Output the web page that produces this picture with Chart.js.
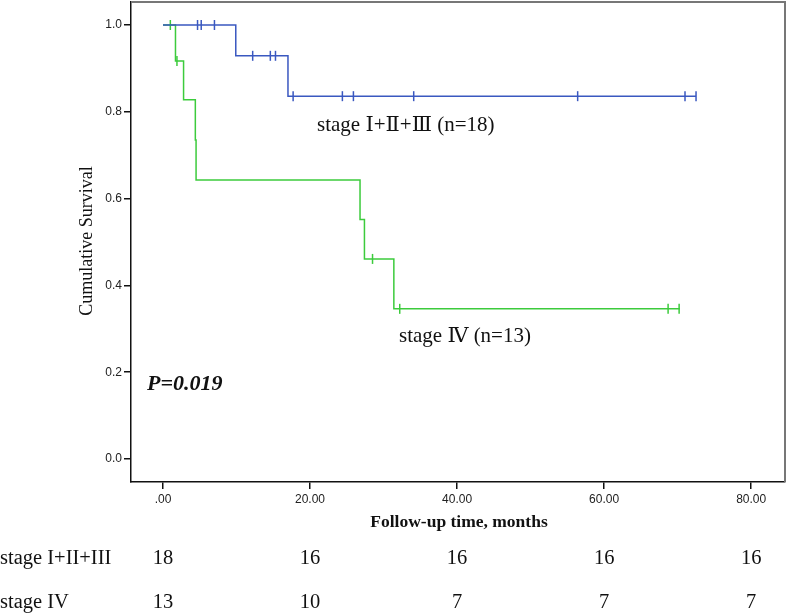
<!DOCTYPE html>
<html>
<head>
<meta charset="utf-8">
<script src="https://cdn.jsdelivr.net/npm/chart.js@4"></script>
<style>
  html, body { margin: 0; padding: 0; background: #fff; }
  #wrap { width: 787px; height: 615px; }
</style>
</head>
<body>
<div id="wrap"><canvas id="km" width="787" height="615"></canvas></div>
<script>
// stage I+II+III curve (time in months, cumulative survival)
const blueT = [0, 9.9, 17.0, 72.5];
const blueS = [1.0, 0.929, 0.836, 0.836];
const blueCensT = [4.7, 5.2, 7.0, 12.2, 14.6, 15.3, 17.7, 24.4, 25.9, 34.1, 56.4, 71.0, 72.5];
const blueCensS = [1.0, 1.0, 1.0, 0.929, 0.929, 0.929, 0.836, 0.836, 0.836, 0.836, 0.836, 0.836, 0.836];

// stage IV curve
const greenT = [0, 1.7, 2.8, 4.4, 4.5, 26.8, 27.4, 31.4, 70.3];
const greenS = [1.0, 0.917, 0.828, 0.735, 0.643, 0.552, 0.461, 0.346, 0.346];
const greenCensT = [1.0, 1.9, 28.5, 32.2, 68.7, 70.2];
const greenCensS = [1.0, 0.917, 0.461, 0.346, 0.346, 0.346];

// x ticks / number at risk
const xTicks = [0, 20, 40, 60, 80];
const yTicks = [0, 0.2, 0.4, 0.6, 0.8, 1.0];
const riskLabels = ['stage I+II+III', 'stage IV'];
const riskBlue = [18, 16, 16, 16, 16];
const riskGreen = [13, 10, 7, 7, 7];

const BLUE = '#3a58c0';
const GREEN = '#3ccb3c';

const pts = (xs, ys) => xs.map((x, i) => ({ x: x, y: ys[i] }));

// texty + ramka
const extras = {
  id: 'extras',
  afterDraw(chart) {
    const ctx = chart.ctx;
    const a = chart.chartArea;
    const xs = chart.scales.x;
    ctx.save();
    // ramka gora/prawo
    ctx.strokeStyle = '#777';
    ctx.lineWidth = 2;
    ctx.beginPath();
    ctx.moveTo(a.left, a.top);
    ctx.lineTo(a.right, a.top);
    ctx.lineTo(a.right, a.bottom);
    ctx.stroke();

    ctx.fillStyle = '#111';
    ctx.textBaseline = 'alphabetic';
    ctx.textAlign = 'left';
    ctx.font = '21px "Liberation Serif", "DejaVu Serif"';
    ctx.fillText('stage \u2160+\u2161+\u2162 (n=18)', 317, 131);
    ctx.fillText('stage \u2163 (n=13)', 399, 342);
    ctx.font = 'italic bold 22px "Liberation Serif"';
    ctx.fillText('P=0.019', 147, 390);

    ctx.textBaseline = 'middle';
    // y title
    ctx.save();
    ctx.translate(87, 241);
    ctx.rotate(-Math.PI / 2);
    ctx.textAlign = 'center';
    ctx.font = '18px "Liberation Serif"';
    ctx.fillText('Cumulative Survival', 0, 0);
    ctx.restore();

    // x title
    ctx.textAlign = 'center';
    ctx.font = 'bold 17.5px "Liberation Serif"';
    ctx.fillText('Follow-up time, months', 459, 522);

    // number at risk
    ctx.font = '20.5px "Liberation Serif"';
    ctx.textAlign = 'left';
    ctx.fillText(riskLabels[0], 0, 559);
    ctx.fillText(riskLabels[1], 0, 603);
    ctx.textAlign = 'center';
    xTicks.forEach((t, i) => {
      const px = xs.getPixelForValue(t);
      ctx.fillText(String(riskBlue[i]), px, 559);
      ctx.fillText(String(riskGreen[i]), px, 603);
    });
    ctx.restore();
  }
};

new Chart(document.getElementById('km'), {
  type: 'scatter',
  data: {
    datasets: [
      { data: pts(blueT, blueS), showLine: true, stepped: 'before', borderColor: BLUE, borderWidth: 1.5, pointRadius: 0 },
      { data: pts(greenT, greenS), showLine: true, stepped: 'before', borderColor: GREEN, borderWidth: 1.5, pointRadius: 0 },
      { data: pts(blueCensT, blueCensS), pointStyle: 'line', rotation: 90, radius: 5, borderColor: BLUE, borderWidth: 1.5 },
      { data: pts(greenCensT, greenCensS), pointStyle: 'line', rotation: 90, radius: 5, borderColor: GREEN, borderWidth: 1.5 }
    ]
  },
  options: {
    responsive: false,
    animation: false,
    layout: { autoPadding: false, padding: { left: 0, top: 2, right: 2, bottom: 0 } },
    plugins: { legend: { display: false }, tooltip: { enabled: false } },
    scales: {
      x: {
        type: 'linear',
        min: -4.35, max: 84.6,
        afterFit(s) { s.height = 133; s.paddingLeft = 0; s.paddingRight = 0; },
        afterBuildTicks(s) { s.ticks = xTicks.map(v => ({ value: v })); },
        grid: { display: true, drawOnChartArea: false, drawTicks: true, tickLength: 7, color: '#111', lineWidth: 1.5 },
        border: { color: '#111', width: 1.5 },
        ticks: {
          color: '#222', padding: 3,
          font: { family: '"Liberation Sans"', size: 12 },
          callback: v => v === 0 ? '.00' : v.toFixed(2)
        }
      },
      y: {
        type: 'linear',
        min: -0.053, max: 1.053,
        afterFit(s) { s.width = 131; s.paddingTop = 0; s.paddingBottom = 0; },
        afterBuildTicks(s) { s.ticks = yTicks.map(v => ({ value: v })); },
        grid: { display: true, drawOnChartArea: false, drawTicks: true, tickLength: 7, color: '#111', lineWidth: 1.5 },
        border: { color: '#111', width: 1.5 },
        ticks: {
          color: '#222', padding: 2,
          font: { family: '"Liberation Sans"', size: 12 },
          callback: v => v.toFixed(1)
        }
      }
    }
  },
  plugins: [extras]
});
</script>
</body>
</html>
